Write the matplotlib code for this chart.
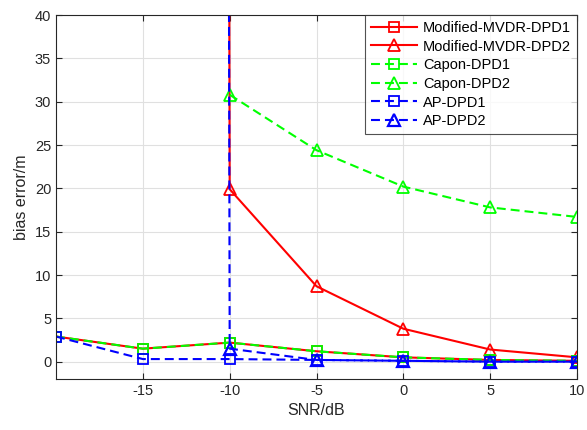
import numpy as np
import matplotlib.pyplot as plt

plt.rcParams['font.family'] = ['Liberation Sans', 'DejaVu Sans']
plt.rcParams['axes.unicode_minus'] = False

# SNR values (dB)
snr = [-20, -15, -10, -5, 0, 5, 10]

# bias error (m); very large values at low SNR go off the top of the axes
mvdr_dpd1 = [2.9, 1.5, 2.2, 1.2, 0.5, 0.2, 0.1]
mvdr_dpd2 = [np.nan, 5000, 19.9, 8.7, 3.8, 1.4, 0.5]
capon_dpd1 = [2.9, 1.5, 2.2, 1.2, 0.5, 0.2, 0.1]
capon_dpd2 = [np.nan, np.nan, 30.8, 24.4, 20.2, 17.8, 16.7]
ap_dpd1 = [2.9, 0.3, 0.3, 0.2, 0.1, 0.0, 0.0]
ap_dpd2 = [np.nan, 5000, 1.5, 0.2, 0.1, 0.0, 0.0]

fig = plt.figure(figsize=(5.87, 4.30), dpi=100)
ax = fig.add_axes([0.0954, 0.1186, 0.8876, 0.8465])

lw = 1.5
ms = 7
dash = (4.3, 2.4)
ax.plot(snr, mvdr_dpd1, '-s', color='red', lw=lw, ms=ms, mfc='none', mew=1.3,
        label='Modified-MVDR-DPD1')
ax.plot(snr, mvdr_dpd2, '-^', color='red', lw=lw, ms=ms + 1, mfc='none', mew=1.3,
        label='Modified-MVDR-DPD2')
ax.plot(snr, capon_dpd1, '--s', dashes=dash, color=(0, 1, 0), lw=lw, ms=ms,
        mfc='none', mew=1.3, label='Capon-DPD1')
ax.plot(snr, capon_dpd2, '--^', dashes=dash, color=(0, 1, 0), lw=lw, ms=ms + 1,
        mfc='none', mew=1.3, label='Capon-DPD2')
ax.plot(snr, ap_dpd1, '--s', dashes=dash, color='blue', lw=lw, ms=ms,
        mfc='none', mew=1.3, label='AP-DPD1')
ax.plot(snr, ap_dpd2, '--^', dashes=dash, color='blue', lw=lw, ms=ms + 2,
        mfc='none', mew=1.6, label='AP-DPD2')

ax.set_xlim(-20, 10)
ax.set_ylim(-2, 40)
ax.set_xticks([-15, -10, -5, 0, 5, 10])
ax.set_yticks(np.arange(0, 41, 5))
ax.tick_params(direction='in', labelsize=10.5, length=4, colors='#262626',
               top=True, right=True)
ax.grid(True, color='#e0e0e0', lw=0.8)
ax.set_axisbelow(True)
for s in ax.spines.values():
    s.set_color('#262626')
    s.set_linewidth(0.8)

ax.set_xlabel('SNR/dB', fontsize=11.5, color='#262626')
ax.set_ylabel('bias error/m', fontsize=11.5, color='#262626')

leg = ax.legend(loc='upper right', bbox_to_anchor=(1, 1), borderaxespad=0,
                fontsize=10.5, fancybox=False, edgecolor='#262626',
                handlelength=3.2, labelspacing=0.32, borderpad=0.4,
                handletextpad=0.4)
leg.get_frame().set_linewidth(0.8)

plt.savefig('out.png', dpi=100)
